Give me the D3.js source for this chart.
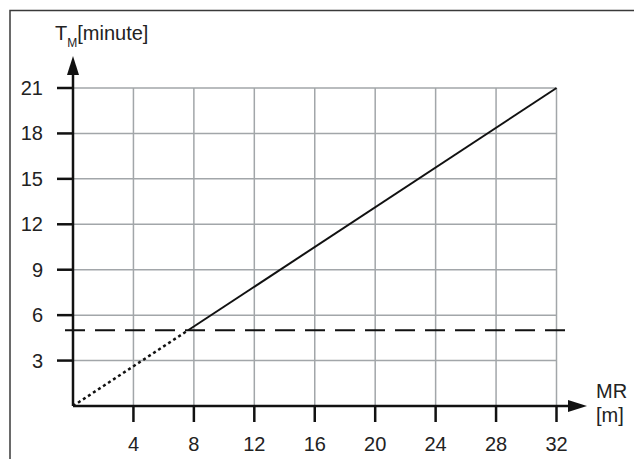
<!DOCTYPE html>
<html>
<head>
<meta charset="utf-8">
<script src="https://d3js.org/d3.v7.min.js"></script>
<style>
  body { margin: 0; background: #fff; font-family: "Liberation Sans", Arial, sans-serif; }
  svg text { fill: #222; font-size: 20px; }
</style>
</head>
<body>
<svg id="chart" width="634" height="459"></svg>
<script>
  // data
  let xTicks = [4, 8, 12, 16, 20, 24, 28, 32]
  let yTicks = [3, 6, 9, 12, 15, 18, 21]
  let lineX = [0, 32]
  let lineY = [0, 21]
  let limit = 5

  let svg = d3.select("#chart")
  let origin = {x: 73, y: 406}

  let xScale = d3.scaleLinear().domain([0, 32]).range([origin.x, 556.5])
  let yScale = d3.scaleLinear().domain([0, 21]).range([origin.y, 88])

  // outer frame (top and left only visible)
  svg.append("path")
    .attr("d", "M10,459 L10,10.5 L634,10.5")
    .attr("fill", "none")
    .attr("stroke", "#3a3a3a")
    .attr("stroke-width", 1.5)

  // grid
  let grid = svg.append("g").attr("stroke", "#a2a6a9").attr("stroke-width", 1.5)
  grid.selectAll(".vg").data(xTicks).enter().append("line")
    .attr("x1", d => xScale(d)).attr("x2", d => xScale(d))
    .attr("y1", yScale(21)).attr("y2", origin.y)
  grid.selectAll(".hg").data(yTicks).enter().append("line")
    .attr("x1", origin.x).attr("x2", xScale(32))
    .attr("y1", d => yScale(d)).attr("y2", d => yScale(d))

  // limit dashed line
  svg.append("line")
    .attr("x1", 65).attr("x2", 568)
    .attr("y1", yScale(limit)).attr("y2", yScale(limit))
    .attr("stroke", "#111").attr("stroke-width", 2)
    .attr("stroke-dasharray", "20,10")

  // relation line: dotted below the limit, solid above
  let slope = (lineY[1] - lineY[0]) / (lineX[1] - lineX[0])
  let xCross = limit / slope
  svg.append("line")
    .attr("x1", xScale(lineX[0])).attr("y1", yScale(lineY[0]))
    .attr("x2", xScale(xCross)).attr("y2", yScale(limit))
    .attr("stroke", "#111").attr("stroke-width", 2.5)
    .attr("stroke-dasharray", "3,3")
  svg.append("line")
    .attr("x1", xScale(xCross)).attr("y1", yScale(limit))
    .attr("x2", xScale(lineX[1])).attr("y2", yScale(lineY[1]))
    .attr("stroke", "#111").attr("stroke-width", 2)

  // axes
  let axes = svg.append("g").attr("stroke", "#111").attr("stroke-width", 2.5)
  axes.append("line").attr("x1", origin.x).attr("x2", origin.x).attr("y1", origin.y).attr("y2", 68)
  axes.append("line").attr("x1", origin.x).attr("x2", 575).attr("y1", origin.y).attr("y2", origin.y)
  svg.append("path").attr("d", `M${origin.x},56 L${origin.x - 6},75 L${origin.x + 6},75 Z`).attr("fill", "#111")
  svg.append("path").attr("d", `M587,${origin.y} L568,${origin.y - 6} L568,${origin.y + 6} Z`).attr("fill", "#111")

  // ticks
  axes.selectAll(".yt").data(yTicks).enter().append("line")
    .attr("x1", 57).attr("x2", origin.x)
    .attr("y1", d => yScale(d)).attr("y2", d => yScale(d))
  axes.selectAll(".xt").data(xTicks).enter().append("line")
    .attr("x1", d => xScale(d)).attr("x2", d => xScale(d))
    .attr("y1", origin.y).attr("y2", 422)

  // tick labels
  svg.selectAll(".yl").data(yTicks).enter().append("text")
    .attr("x", 43).attr("y", d => yScale(d) + 7)
    .attr("text-anchor", "end")
    .text(d => d)
  svg.selectAll(".xl").data(xTicks).enter().append("text")
    .attr("x", d => xScale(d)).attr("y", 451)
    .attr("text-anchor", "middle")
    .text(d => d)

  // axis titles
  let yt = svg.append("text").attr("x", 55).attr("y", 40)
  yt.append("tspan").text("T")
  yt.append("tspan").attr("font-size", "12px").attr("dy", 7).text("M")
  yt.append("tspan").attr("dy", -7).text("[minute]")

  svg.append("text").attr("x", 596).attr("y", 398).text("MR")
  svg.append("text").attr("x", 596).attr("y", 422).text("[m]")
</script>
</body>
</html>
